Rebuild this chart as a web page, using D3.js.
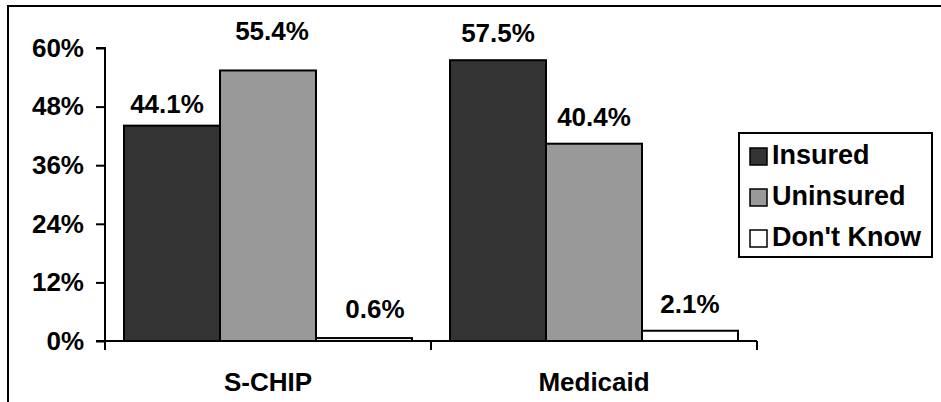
<!DOCTYPE html>
<html><head><meta charset="utf-8">
<script src="https://cdn.jsdelivr.net/npm/d3@7"></script>
<style>body{margin:0;background:#fff}svg{display:block}text{font-family:"Liberation Sans",Arial,sans-serif;font-weight:bold;fill:#000}</style>
</head><body><svg id="c" width="941" height="402"></svg>
<script>
const categories = ["S-CHIP", "Medicaid"];
const seriesNames = ["Insured", "Uninsured", "Don't Know"];
const insured = [44.1, 57.5];
const uninsured = [55.4, 40.4];
const dontKnow = [0.6, 2.1];
const yTicks = [0, 12, 24, 36, 48, 60];
const colors = ["#333333", "#999999", "#ffffff"];

const series = [insured, uninsured, dontKnow];
const FS = "26px";
const svg = d3.select("#c");
// outer border (extends past right/bottom)
svg.append("rect").attr("x", 8).attr("y", 6).attr("width", 960).attr("height", 420)
  .attr("fill", "none").attr("stroke", "#000").attr("stroke-width", 2);

const x0 = d3.scaleBand().domain(categories).range([105, 757]).paddingInner(0).paddingOuter(0);
const x1 = d3.scaleBand().domain(seriesNames).range([0, x0.bandwidth()]).paddingOuter(0.198).paddingInner(0);
const y = d3.scaleLinear().domain([0, 60]).range([341, 48]);

// bars
categories.forEach((c, ci) => {
  series.forEach((s, si) => {
    svg.append("rect")
      .attr("x", x0(c) + x1(seriesNames[si]))
      .attr("y", y(s[ci]))
      .attr("width", x1.bandwidth())
      .attr("height", y(0) - y(s[ci]))
      .attr("fill", colors[si]).attr("stroke", "#000").attr("stroke-width", 2);
  });
});

// axes
const yAxis = d3.axisLeft(y).tickValues(yTicks).tickFormat(d => d + "%").tickSize(9).tickPadding(12);
const gy = svg.append("g").attr("transform", "translate(105,0)").call(yAxis);
gy.select(".domain").attr("stroke-width", 2).attr("d", "M-9," + y(60) + "H0V" + y(0));
gy.selectAll(".tick line").attr("stroke-width", 2);
gy.selectAll(".tick text").style("font-size", FS).style("font-family", "Liberation Sans, Arial, sans-serif").style("font-weight", "bold");

const xAxisLine = svg.append("g");
xAxisLine.append("line").attr("x1", 96).attr("x2", 757).attr("y1", y(0)).attr("y2", y(0)).attr("stroke", "#000").attr("stroke-width", 2);
const xb = [...categories.map(c => x0(c)), x0(categories[categories.length - 1]) + x0.bandwidth()];
xb.forEach(v => xAxisLine.append("line").attr("x1", v).attr("x2", v).attr("y1", y(0)).attr("y2", y(0) + 9).attr("stroke", "#000").attr("stroke-width", 2));
categories.forEach(c => svg.append("text").attr("x", x0(c) + x0.bandwidth() / 2).attr("y", 391)
  .attr("text-anchor", "middle").style("font-size", FS).text(c));

// data labels (label placement tweaks as in the reference)
const labelAdjust = {"S-CHIP|Uninsured": [4, 30], "S-CHIP|Insured": [-5, 13], "S-CHIP|Don't Know": [11, 20]};
categories.forEach((c, ci) => {
  series.forEach((s, si) => {
    const adj = labelAdjust[c + "|" + seriesNames[si]] || [0, 18];
    svg.append("text")
      .attr("x", x0(c) + x1(seriesNames[si]) + x1.bandwidth() / 2 + adj[0])
      .attr("y", y(s[ci]) - adj[1])
      .attr("text-anchor", "middle").style("font-size", FS)
      .text(s[ci].toFixed(1) + "%");
  });
});

// legend
const lg = svg.append("g");
lg.append("rect").attr("x", 739).attr("y", 133).attr("width", 193).attr("height", 124)
  .attr("fill", "#fff").attr("stroke", "#000").attr("stroke-width", 2);
seriesNames.forEach((n, i) => {
  const base = 164 + i * 41;
  lg.append("rect").attr("x", 750).attr("y", base - 16).attr("width", 17).attr("height", 17)
    .attr("fill", colors[i]).attr("stroke", "#000").attr("stroke-width", 1.5);
  lg.append("text").attr("x", 772).attr("y", base).style("font-size", "27px").text(n);
});
</script></body></html>
